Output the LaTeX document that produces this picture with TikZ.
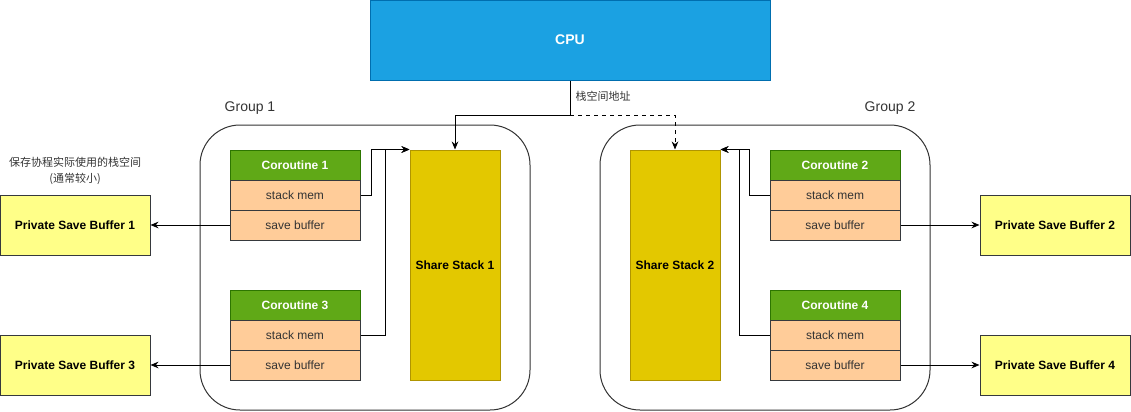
\documentclass[tikz,border=0pt]{standalone}
\usepackage{fontspec}
\setmainfont{Liberation Sans}
\newfontfamily\cjk{Noto Sans CJK SC}
\usetikzlibrary{arrows.meta}
\definecolor{cpufill}{HTML}{1BA1E2}
\definecolor{cpuline}{HTML}{006EAF}
\definecolor{cofill}{HTML}{60A917}
\definecolor{coline}{HTML}{2D7600}
\definecolor{memfill}{HTML}{FFCC99}
\definecolor{darkline}{HTML}{36393D}
\definecolor{stackfill}{HTML}{E3C800}
\definecolor{stackline}{HTML}{B09500}
\definecolor{buffill}{HTML}{FFFF88}
\definecolor{txt}{HTML}{333333}

\begin{document}
\begin{tikzpicture}[x=0.75pt,y=-0.75pt,line width=0.75pt,
  every node/.style={font=\fontsize{9pt}{11pt}\selectfont,inner sep=0pt},
  cobox/.style={draw=coline,fill=cofill,text=white,font=\fontsize{9pt}{11pt}\selectfont\bfseries,minimum width=97.5pt,minimum height=22.5pt},
  rowbox/.style={draw=darkline,fill=memfill,text=txt,minimum width=97.5pt,minimum height=22.5pt},
  stackbox/.style={draw=stackline,fill=stackfill,font=\fontsize{9pt}{11pt}\selectfont\bfseries,minimum width=67.5pt,minimum height=172.5pt},
  bufbox/.style={draw=darkline,fill=buffill,font=\fontsize{9pt}{11pt}\selectfont\bfseries,minimum width=112.5pt,minimum height=45pt},
  grpbox/.style={draw=black!80,rounded corners=30pt},
  link/.style={-{Stealth[length=6pt,width=5pt]},black}]
\useasboundingbox (0,0) rectangle (1131,411);
\draw[grpbox] (200,125) rectangle (530,410);
\draw[grpbox] (600,125) rectangle (930,410);
\node[text=txt,font=\fontsize{10.5pt}{12pt}\selectfont] (g1) at (250,108) {Group 1};
\node[text=txt,font=\fontsize{10.5pt}{12pt}\selectfont] (g2) at (890,108) {Group 2};
\node[draw=cpuline,fill=cpufill,text=white,font=\fontsize{10.5pt}{12pt}\selectfont\bfseries,minimum width=300pt,minimum height=60pt] (cpu) at (570,40) {CPU};
\node[stackbox] (stack1) at (455,265) {Share Stack 1};
\node[stackbox] (stack2) at (675,265) {Share Stack 2};
\node[cobox] (co1) at (295,165) {Coroutine 1};
\node[rowbox] (mem1) at (295,195) {stack mem};
\node[rowbox] (buf1) at (295,225) {save buffer};
\node[cobox] (co3) at (295,305) {Coroutine 3};
\node[rowbox] (mem3) at (295,335) {stack mem};
\node[rowbox] (buf3) at (295,365) {save buffer};
\node[cobox] (co2) at (835,165) {Coroutine 2};
\node[rowbox] (mem2) at (835,195) {stack mem};
\node[rowbox] (buf2) at (835,225) {save buffer};
\node[cobox] (co4) at (835,305) {Coroutine 4};
\node[rowbox] (mem4) at (835,335) {stack mem};
\node[rowbox] (buf4) at (835,365) {save buffer};
\node[bufbox] (psb1) at (75,225) {Private Save Buffer 1};
\node[bufbox] (psb3) at (75,365) {Private Save Buffer 3};
\node[bufbox] (psb2) at (1055,225) {Private Save Buffer 2};
\node[bufbox] (psb4) at (1055,365) {Private Save Buffer 4};
\node[text=txt,align=center,font=\fontsize{8.25pt}{12pt}\selectfont\cjk] (note) at (75,171) {保存协程实际使用的栈空间\\(通常较小)};
\coordinate (split) at (570,115);
\draw (cpu.south) -- (split);
\node[anchor=west,text=txt,font=\fontsize{8.25pt}{10pt}\selectfont\cjk] (addr) at (575,96) {栈空间地址};
\draw[link] (split) -| (stack1.north);
\draw[link,dashed] (split) -| (stack2.north);
\draw[link] (mem1.east) -- ++(11,0) |- (stack1.north west);
\draw[link] (mem3.east) -- ++(25,0) |- (stack1.north west);
\draw[link] (mem2.west) -- ++(-20,0) |- (stack2.north east);
\draw[link] (mem4.west) -- ++(-30,0) |- (stack2.north east);
\draw[link] (buf1.west) -- (psb1.east);
\draw[link] (buf3.west) -- (psb3.east);
\draw[link] (buf2.east) -- (psb2.west);
\draw[link] (buf4.east) -- (psb4.west);
\end{tikzpicture}
\end{document}
